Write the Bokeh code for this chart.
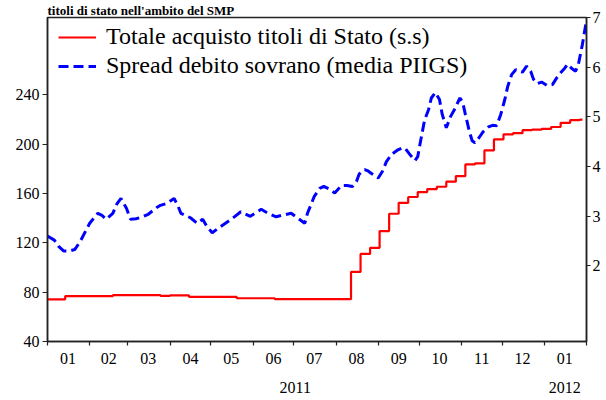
from bokeh.plotting import figure
from bokeh.models import Range1d, LinearAxis, FixedTicker, Legend, LegendItem, Title
from bokeh.embed import file_html
from bokeh.resources import INLINE

# ---- data (x = days since 2011-01-01) ----
month_starts = [0, 31, 59, 90, 120, 151, 181, 212, 243, 273, 304, 334, 365, 396]
month_labels = ["01", "02", "03", "04", "05", "06", "07", "08", "09", "10", "11", "12", "01"]
year_positions = [182, 380]
year_labels = ["2011", "2012"]
left_ticks = [40, 80, 120, 160, 200, 240]
right_ticks = [2, 3, 4, 5, 6, 7]
title_text = "titoli di stato nell'ambito del SMP"

# Totale acquisto titoli di Stato (left scale, step series, weekly)
sm_days = [0, 13, 48, 83, 90, 104, 139, 167, 223, 230, 237, 244, 251, 258, 265, 272,
           279, 286, 293, 300, 307, 314, 321, 328, 335, 342, 349, 356, 363, 370, 377,
           384, 391, 393]
sm_vals = [74.2, 76.8, 77.6, 77.0, 77.4, 76.2, 75.1, 74.3, 96.4, 111.0, 116.0, 129.6,
           143.6, 152.5, 157.2, 161.2, 163.6, 165.5, 169.6, 174.2, 183.6, 184.4, 195.0,
           204.0, 208.0, 209.0, 211.4, 211.8, 212.4, 214.0, 217.4, 219.5, 220.0, 220.0]

# Spread debito sovrano, media PIIGS (right scale)
sp_days = [0, 5, 8, 12, 16, 20, 24, 31, 37, 40, 43, 48, 51, 54, 58, 61, 65, 69, 74, 80,
           83, 88, 93, 96, 98, 105, 110, 114, 117, 121, 127, 135, 142, 149, 157, 162,
           168, 174, 179, 184, 189, 191, 196, 200, 203, 207, 211, 216, 220, 224, 227,
           229, 233, 235, 238, 243, 246, 249, 253, 257, 261, 263, 266, 270, 272, 274,
           277, 280, 282, 285, 288, 290, 293, 296, 299, 303, 305, 307, 310, 312, 314,
           317, 320, 324, 327, 330, 333, 336, 338, 341, 344, 346, 349, 352, 355, 357,
           360, 363, 367, 371, 374, 377, 380, 382, 385, 388, 390, 393, 396]
sp_vals = [2.60, 2.52, 2.40, 2.30, 2.30, 2.33, 2.49, 2.86, 3.06, 3.02, 2.94, 3.06, 3.25,
           3.36, 3.16, 2.94, 2.95, 2.98, 3.04, 3.17, 3.22, 3.26, 3.36, 3.20, 3.06, 2.97,
           2.86, 2.94, 2.80, 2.67, 2.79, 2.94, 3.09, 3.00, 3.14, 3.06, 2.99, 3.03, 3.06,
           2.96, 2.86, 3.06, 3.40, 3.56, 3.60, 3.55, 3.47, 3.62, 3.62, 3.60, 3.70, 3.85,
           3.94, 3.92, 3.86, 3.77, 3.90, 4.10, 4.25, 4.33, 4.38, 4.36, 4.25, 4.12, 4.20,
           4.50, 4.93, 5.15, 5.38, 5.49, 5.35, 5.05, 4.78, 5.00, 5.15, 5.38, 5.30, 5.05,
           4.70, 4.52, 4.48, 4.58, 4.70, 4.80, 4.83, 4.82, 5.05, 5.35, 5.60, 5.85, 5.95,
           5.92, 5.90, 6.02, 5.92, 5.76, 5.67, 5.70, 5.63, 5.65, 5.78, 5.89, 5.98, 6.06,
           5.98, 5.92, 6.05, 6.46, 6.95]

FONT = "Liberation Serif"

title = Title(text=title_text, text_font=FONT, text_font_size="13px",
              text_font_style="bold", text_color="black", align="left",
              offset=0, standoff=0)

p = figure(width=606, height=400, output_backend="svg", toolbar_location=None,
           x_range=Range1d(0, 396), y_range=Range1d(40, 302.8), title=title,
           min_border_left=47, min_border_right=20, min_border_top=16, min_border_bottom=59)
p.extra_y_ranges = {"r": Range1d(0.48, 7.0)}

p.xgrid.visible = False
p.ygrid.visible = False
p.outline_line_color = "#222222"
p.outline_line_width = 1.5
p.background_fill_color = "white"
p.border_fill_color = "white"

r_sm = p.step(sm_days, sm_vals, mode="after", line_color="#ff0000", line_width=2.2)
r_sp = p.line(sp_days, sp_vals, y_range_name="r", line_color="#0000ff", line_width=3,
              line_dash="10 5")

def style_axis(ax):
    ax.axis_line_color = "#222222"
    ax.axis_line_width = 1.5
    ax.major_tick_line_color = "#222222"
    ax.major_tick_line_width = 1.2
    ax.major_label_text_font = FONT
    ax.major_label_text_font_size = "16px"
    ax.major_label_text_color = "black"
    ax.axis_label_standoff = 0

# left axis
ya = p.yaxis[0]
ya.ticker = FixedTicker(ticks=left_ticks, minor_ticks=[])
style_axis(ya)
ya.major_tick_out = 5
ya.major_tick_in = 0
ya.major_label_standoff = 3

# right axis
ra = LinearAxis(y_range_name="r", ticker=FixedTicker(ticks=right_ticks, minor_ticks=[]))
style_axis(ra)
ra.major_tick_out = 4
ra.major_tick_in = 0
ra.major_label_standoff = 2
p.add_layout(ra, "right")

# bottom axis: month labels centred between month boundaries (minor ticks)
mids = [(month_starts[i] + month_starts[i + 1]) // 2 for i in range(len(month_labels))]
xa = p.xaxis[0]
xa.ticker = FixedTicker(ticks=mids, minor_ticks=month_starts)
xa.major_label_overrides = {m: lab for m, lab in zip(mids, month_labels)}
style_axis(xa)
xa.major_tick_out = 0
xa.major_tick_in = 0
xa.minor_tick_out = 4
xa.minor_tick_in = 0
xa.minor_tick_line_color = "#222222"
xa.minor_tick_line_width = 1.2
xa.major_label_standoff = 7

# year axis
yr = LinearAxis(ticker=FixedTicker(ticks=year_positions, minor_ticks=[]))
yr.major_label_overrides = {pos: lab for pos, lab in zip(year_positions, year_labels)}
style_axis(yr)
yr.axis_line_color = None
yr.major_tick_line_color = None
yr.minor_tick_line_color = None
yr.major_tick_out = 0
yr.major_tick_in = 0
yr.major_label_standoff = 15
p.add_layout(yr, "below")

legend = Legend(items=[
    LegendItem(label="Totale acquisto titoli di Stato (s.s)", renderers=[r_sm]),
    LegendItem(label="Spread debito sovrano (media PIIGS)", renderers=[r_sp]),
], location=(2, 253))
legend.border_line_alpha = 0
legend.background_fill_alpha = 0
legend.label_text_font = FONT
legend.label_text_font_size = "24px"
legend.label_text_color = "black"
legend.glyph_width = 38
legend.label_standoff = 10
legend.padding = 9
legend.margin = 0
legend.spacing = 2
p.add_layout(legend)

open("out.html", "w").write(file_html(p, INLINE))
